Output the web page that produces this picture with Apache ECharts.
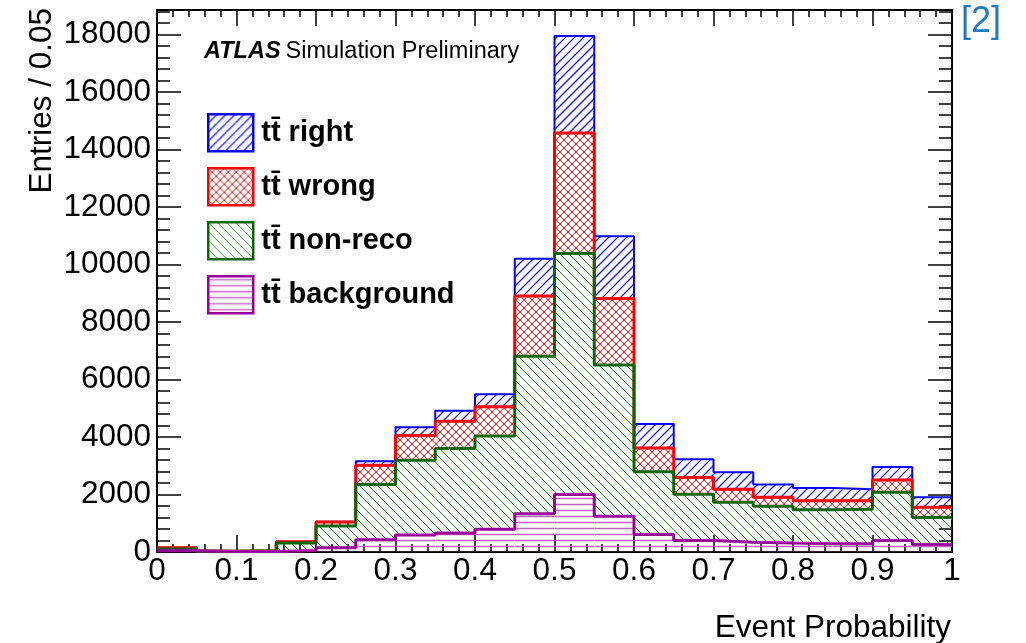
<!DOCTYPE html>
<html>
<head>
<meta charset="utf-8">
<script src="https://cdn.jsdelivr.net/npm/echarts@6/dist/echarts.min.js"></script>
<style>
  html, body { margin: 0; padding: 0; background: #fff; }
  #chart { width: 1026px; height: 643px; }
</style>
</head>
<body>
<div id="chart"></div>
<script>
// Histogram bins: lower edge of each 0.05-wide bin in event probability
const binStart = [0.00, 0.05, 0.10, 0.15, 0.20, 0.25, 0.30, 0.35, 0.40, 0.45,
                  0.50, 0.55, 0.60, 0.65, 0.70, 0.75, 0.80, 0.85, 0.90, 0.95];
const binWidth = 0.05;

// Entries per bin for each stacked component (bottom to top: background, non-reco, wrong, right)
const background = [40, 20, 20, 50, 150, 430, 590, 660, 790, 1330,
                    2000, 1240, 610, 400, 340, 310, 290, 290, 400, 260];
const nonReco    = [60, 10, 20, 260, 750, 1920, 2600, 2940, 3240, 5480,
                    8380, 5260, 2180, 1610, 1390, 1280, 1180, 1200, 1680, 940];
const wrong      = [50, 0, 0, 50, 140, 670, 860, 950, 1020, 2090,
                    4190, 2320, 830, 580, 450, 310, 310, 290, 420, 360];
const right      = [0, 0, 0, 0, 10, 140, 290, 360, 440, 1300,
                    3380, 2160, 830, 640, 590, 450, 450, 400, 460, 340];

const seriesNames = ['tt\u0304 right', 'tt\u0304 wrong', 'tt\u0304 non-reco', 'tt\u0304 background'];
const yMax = 18850;

const FONT = "'Liberation Sans', Arimo, Helvetica, Arial, sans-serif";
const AXIS_FONT_SIZE = 31.5;

// Line colours and ROOT-like hatch styles per component (top of stack first)
const lineColors  = ['#0000ff', '#ff0000', '#086808', '#990099'];
const hatchColors = ['#1a1aff', '#ff1a1a', '#1a801a', '#c462c4'];
const lineWidths  = [2, 3, 3, 3];
const hatchKinds  = [['/'], ['/', '\\'], ['\\'], ['-']];
const hatchStep   = [9, 8, 9, 6];
const hatchWidth  = [1.3, 1, 1, 1.5];

// Pattern tile for the legend swatches
function hatchTile(i) {
  const size = hatchStep[i];
  const c = document.createElement('canvas');
  c.width = size; c.height = size;
  const g = c.getContext('2d');
  g.strokeStyle = hatchColors[i];
  g.lineWidth = hatchWidth[i];
  g.beginPath();
  hatchKinds[i].forEach(function (k) {
    [-size, 0, size].forEach(function (o) {
      if (k === '/') { g.moveTo(o, size); g.lineTo(o + size, 0); }
      if (k === '\\') { g.moveTo(o, 0); g.lineTo(o + size, size); }
    });
    if (k === '-') { g.moveTo(0, Math.floor(size / 2) + 0.5); g.lineTo(size, Math.floor(size / 2) + 0.5); }
  });
  g.stroke();
  return { image: c, repeat: 'repeat' };
}

// Hatch strokes inside a pixel rectangle, aligned to a global lattice
function hatchPath(x, y, w, h, kinds, s) {
  let d = '';
  kinds.forEach(function (k) {
    if (k === '-') {
      for (let yy = Math.ceil(y / s) * s; yy <= y + h; yy += s) {
        d += 'M' + x + ' ' + (yy + 0.5) + 'L' + (x + w) + ' ' + (yy + 0.5);
      }
    } else if (k === '/') {
      // lines of constant x + y
      for (let c = Math.floor((x + y) / s) * s; c <= x + w + y + h + s; c += s) {
        d += 'M' + (c - y) + ' ' + y + 'L' + (c - y - h) + ' ' + (y + h);
      }
    } else if (k === '\\') {
      // lines of constant x - y
      for (let c = Math.floor((x - y - h) / s) * s; c <= x + w - y + s; c += s) {
        d += 'M' + (c + y) + ' ' + y + 'L' + (c + y + h) + ' ' + (y + h);
      }
    }
  });
  return d;
}

// Cumulative stack boundaries
const parts = [background, nonReco, wrong, right];
const cum = [];
let run = binStart.map(function () { return 0; });
parts.forEach(function (p) {
  const lower = run.slice();
  run = run.map(function (v, i) { return v + p[i]; });
  cum.push({ lower: lower, upper: run.slice() });
});
// series index i (right, wrong, non-reco, background) -> stack level
const stackOrder = [3, 2, 1, 0];

function bandData(k) {
  const c = cum[k];
  return binStart.map(function (x, i) { return [x, x + binWidth, c.lower[i], c.upper[i]]; });
}
function stepData(k) {
  const top = cum[k].upper;
  const pts = binStart.map(function (x, i) { return [x, top[i]]; });
  pts.push([binStart[binStart.length - 1] + binWidth, top[top.length - 1]]);
  return pts;
}

function makeRender(i) {
  return function (params, api) {
    const a = api.coord([api.value(0), api.value(3)]);
    const b = api.coord([api.value(1), api.value(2)]);
    const x = a[0], y = a[1], w = b[0] - a[0], h = b[1] - a[1];
    if (h <= 0.5) return null;
    return {
      type: 'group',
      clipPath: { type: 'rect', shape: { x: x, y: y, width: w, height: h } },
      children: [{
        type: 'path',
        shape: { pathData: hatchPath(x, y, w, h, hatchKinds[i], hatchStep[i]) },
        style: { fill: null, stroke: hatchColors[i], lineWidth: hatchWidth[i] }
      }]
    };
  };
}

const series = [];
seriesNames.forEach(function (name, i) {
  series.push({
    name: name,
    type: 'custom',
    renderItem: makeRender(i),
    data: bandData(stackOrder[i]),
    encode: { x: [0, 1], y: [2, 3] },
    itemStyle: { color: lineColors[i] },
    clip: true,
    silent: true,
    z: 2
  });
});
// Step outlines, drawn from the top of the stack down so lower components sit on top
seriesNames.forEach(function (name, i) {
  series.push({
    name: name + ' outline',
    type: 'line',
    step: 'end',
    data: stepData(stackOrder[i]),
    symbol: 'none',
    clip: true,
    silent: true,
    lineStyle: { color: lineColors[i], width: lineWidths[i] },
    z: 3 + i
  });
});

function plain(v) { return String(v); }

function xAxisDef(pos, showLabels, major, minor) {
  return {
    type: 'value', position: pos, min: 0, max: 1, interval: 0.1,
    axisLine: { show: true, onZero: false, lineStyle: { color: '#000', width: 2 } },
    axisTick: { show: true, inside: true, length: major, lineStyle: { color: '#000', width: 1.5 } },
    minorTick: { show: true, splitNumber: 5, length: minor, lineStyle: { color: '#000', width: 1.5 } },
    splitLine: { show: false },
    minorSplitLine: { show: false },
    axisLabel: { show: showLabels, color: '#000', fontSize: AXIS_FONT_SIZE, fontFamily: FONT, margin: 3 }
  };
}
function yAxisDef(pos, showLabels, interval, tickLen, showLine) {
  return {
    type: 'value', position: pos, min: 0, max: yMax, interval: interval, offset: 0,
    axisLine: { show: showLine, onZero: false, lineStyle: { color: '#000', width: 2 } },
    axisTick: { show: true, inside: true, length: tickLen, lineStyle: { color: '#000', width: 1.5 } },
    splitLine: { show: false },
    axisLabel: { show: showLabels, showMaxLabel: false, formatter: plain, color: '#000', fontSize: AXIS_FONT_SIZE, fontFamily: FONT, margin: 6 }
  };
}

const chart = echarts.init(document.getElementById('chart'), null, { renderer: 'canvas' });
chart.setOption({
  backgroundColor: '#fff',
  animation: false,
  grid: { left: 157, right: 74, top: 10, bottom: 91, containLabel: false },
  xAxis: [
    xAxisDef('bottom', true, 17, 8),
    xAxisDef('top', false, 16, 7)
  ],
  yAxis: [
    yAxisDef('left', true, 2000, 24, true),
    yAxisDef('right', false, 2000, 24, true),
    yAxisDef('left', false, 400, 13, false),
    yAxisDef('right', false, 400, 13, false)
  ],
  legend: {
    orient: 'vertical', left: 207, top: 113, padding: 0,
    itemWidth: 45, itemHeight: 37, itemGap: 14.5, icon: 'rect',
    selectedMode: false,
    textStyle: { fontFamily: FONT, fontSize: 29, fontWeight: 'bold', color: '#000', padding: [0, 0, 0, 3] },
    data: seriesNames.map(function (n, i) {
      return { name: n, itemStyle: { color: hatchTile(i), borderColor: lineColors[i], borderWidth: 2.5 } };
    })
  },
  title: [
    {
      text: '{a|ATLAS} {b|Simulation Preliminary}',
      left: 204, top: 40, padding: 0,
      textStyle: {
        fontWeight: 'normal',
        rich: {
          a: { fontFamily: FONT, fontSize: 23.5, fontStyle: 'italic', fontWeight: 'bold', color: '#000' },
          b: { fontFamily: FONT, fontSize: 23.5, fontWeight: 'normal', color: '#000' }
        }
      }
    },
    {
      text: '[2]', left: 961, top: 4, padding: 0,
      textStyle: { fontFamily: FONT, fontSize: 36, fontWeight: 'normal', color: '#1f78c8' }
    }
  ],
  graphic: [
    {
      type: 'text', x: 42, y: 8, rotation: Math.PI / 2,
      style: { text: 'Entries / 0.05', font: AXIS_FONT_SIZE + 'px ' + FONT, fill: '#000', align: 'right', verticalAlign: 'middle' }
    },
    {
      type: 'text', x: 951, y: 628,
      style: { text: 'Event Probability', font: AXIS_FONT_SIZE + 'px ' + FONT, fill: '#000', align: 'right', verticalAlign: 'middle' }
    }
  ],
  series: series
});
</script>
</body>
</html>
